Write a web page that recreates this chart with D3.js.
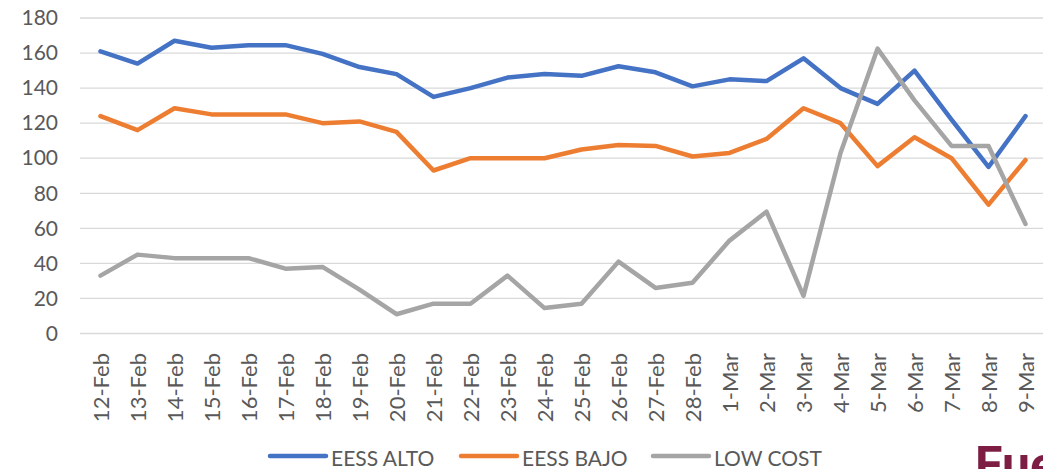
<!DOCTYPE html>
<html>
<head>
<meta charset="utf-8">
<script src="https://cdn.jsdelivr.net/npm/d3@7"></script>
<style>
  body { margin: 0; background: #fff; }
  svg text { font-family: Lato, "Open Sans", sans-serif; fill: #595959; }
</style>
</head>
<body>
<div id="chart"></div>
<script>
// categories (x axis)
var days = ["12-Feb","13-Feb","14-Feb","15-Feb","16-Feb","17-Feb","18-Feb","19-Feb","20-Feb",
  "21-Feb","22-Feb","23-Feb","24-Feb","25-Feb","26-Feb","27-Feb","28-Feb",
  "1-Mar","2-Mar","3-Mar","4-Mar","5-Mar","6-Mar","7-Mar","8-Mar","9-Mar"];

// series values
var eessAlto = [161,154,167,163,164.5,164.5,159.5,152,148,135,140,146,148,147,152.5,149,141,
  145,144,157,140,131,150,122,95,124];
var eessBajo = [124,116,128.5,125,125,125,120,121,115,93,100,100,100,105,107.5,107,101,
  103,111,128.5,120,95.5,112,100,73.5,99];
var lowCost = [33,45,43,43,43,37,38,25,11,17,17,33,14.5,17,41,26,29,
  53,69.5,21.5,103,162.5,133,107,107,62.5];

var yTicks = [0,20,40,60,80,100,120,140,160,180];

var seriesNames = ["EESS ALTO","EESS BAJO","LOW COST"];
var seriesColors = ["#4472C4","#ED7D31","#A5A5A5"];
var seriesData = [eessAlto, eessBajo, lowCost];

var width = 1043, height = 469;
var svg = d3.select("#chart").append("svg")
    .attr("width", width)
    .attr("height", height);

var x = d3.scalePoint().domain(days).range([82, 1044]).padding(0.5);
var y = d3.scaleLinear().domain([0, 180]).range([333.5, 18]);

// gridlines
svg.append("g").selectAll("line")
  .data(yTicks)
  .enter().append("line")
    .attr("x1", 80).attr("x2", 1043)
    .attr("y1", d => y(d)).attr("y2", d => y(d))
    .attr("stroke", "#d9d9d9")
    .attr("stroke-width", 1.3);

// y labels
var yAxis = d3.axisLeft(y).tickValues(yTicks).tickSize(0).tickPadding(0);
var yg = svg.append("g").attr("transform", "translate(58,0)").call(yAxis);
yg.select(".domain").remove();
yg.selectAll("text")
  .attr("font-size", "21px")
  .attr("fill", "#595959")
  .style("font-family", "Lato, 'Open Sans', sans-serif");

// x labels, rotated
var xAxis = d3.axisBottom(x).tickSize(0).tickPadding(0);
var xg = svg.append("g").attr("transform", "translate(0,353)").call(xAxis);
xg.select(".domain").remove();
xg.selectAll("text")
  .attr("font-size", "22px")
  .attr("fill", "#595959")
  .style("font-family", "Lato, 'Open Sans', sans-serif")
  .attr("text-anchor", "end")
  .attr("transform", "rotate(-90)")
  .attr("x", 0)
  .attr("y", 0)
  .attr("dy", "0.35em");

// lines
var line = d3.line()
  .x((d, i) => x(days[i]))
  .y(d => y(d));

svg.append("g").selectAll("path")
  .data(seriesData)
  .enter().append("path")
    .attr("d", d => line(d))
    .attr("fill", "none")
    .attr("stroke", (d, i) => seriesColors[i])
    .attr("stroke-width", 4.5)
    .attr("stroke-linejoin", "round")
    .attr("stroke-linecap", "round");

// legend
var legendX = [270, 461, 653];
var leg = svg.append("g").selectAll("g")
  .data(seriesNames)
  .enter().append("g")
    .attr("transform", (d, i) => "translate(" + legendX[i] + ",456)");
leg.append("line")
  .attr("x1", 0).attr("x2", 56)
  .attr("stroke", (d, i) => seriesColors[i])
  .attr("stroke-width", 4.5)
  .attr("stroke-linecap", "round");
leg.append("text")
  .attr("x", 61)
  .attr("y", 10)
  .attr("font-size", "21px")
  .text(d => d);

// logo fragment bottom right (cut off by the edge, as in the source image)
svg.append("text")
  .attr("x", 975)
  .attr("y", 482)
  .attr("font-size", "50px")
  .attr("font-weight", "bold")
  .style("fill", "#7d1d44")
  .style("font-family", "Roboto, sans-serif")
  .text("Fue");
</script>
</body>
</html>
